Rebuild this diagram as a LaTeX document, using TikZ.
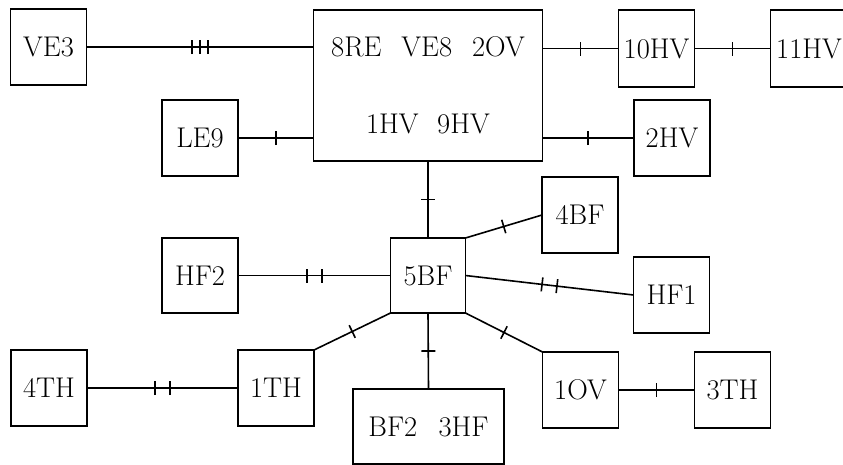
\documentclass[tikz,border=0pt]{standalone}
\usetikzlibrary{decorations.markings}
\begin{document}
\begin{tikzpicture}[x=1pt,y=-1pt,
  box/.style={draw,line width=1.6pt,inner sep=0pt,outer sep=0pt,
    minimum width=76pt,minimum height=76pt,font=\fontsize{28.5}{34}\selectfont},
  link/.style={line width=1.6pt},
  tkone/.style={link,postaction={decorate},decoration={markings,
    mark=at position 0.5 with {\draw[line width=1.6pt] (0,-7pt)--(0,7pt);}}},
  tktwo/.style={link,postaction={decorate},decoration={markings,
    mark=at position 0.5 with {\draw[line width=1.6pt] (-7.5pt,-7pt)--(-7.5pt,7pt) (7.5pt,-7pt)--(7.5pt,7pt);}}},
  tkthree/.style={link,postaction={decorate},decoration={markings,
    mark=at position 0.5 with {\draw[line width=1.6pt] (-8pt,-7pt)--(-8pt,7pt) (0,-7pt)--(0,7pt) (8pt,-7pt)--(8pt,7pt);}}}
]
\useasboundingbox (0,0) rectangle (843,464);
\fill[white] (0,0) rectangle (843,464);
\node[box] (VE3) at (48.5,47) {VE3};
\node[box,minimum width=229pt,minimum height=151pt,align=center,
  font=\fontsize{28.5}{77}\selectfont] (big) at (428,85.5)
  {8RE\hspace{0.7em}VE8\hspace{0.7em}2OV\\1HV\hspace{0.65em}9HV};
\node[box] (LE9) at (200,138) {LE9};
\node[box,minimum height=77pt] (10HV) at (656.5,48.5) {10HV};
\node[box,minimum width=77pt,minimum height=77pt] (11HV) at (809,48.5) {11HV};
\node[box] (2HV) at (672,138) {2HV};
\node[box,minimum width=75pt,minimum height=75pt] (5BF) at (428,275.5) {5BF};
\node[box,minimum height=75pt] (HF2) at (200,275.5) {HF2};
\node[box] (4BF) at (580,215) {4BF};
\node[box] (HF1) at (671.5,295) {HF1};
\node[box] (4TH) at (49,388) {4TH};
\node[box] (1TH) at (276,388) {1TH};
\node[box,minimum width=151pt,minimum height=75pt] (BF2) at (428.5,426.5) {BF2\hspace{0.75em}3HF};
\node[box] (1OV) at (580.5,390) {1OV};
\node[box] (3TH) at (732.5,390) {3TH};

\draw[tkthree] (VE3.east) -- (VE3.east -| big.west);
\draw[tkone] (LE9.east) -- (LE9.east -| big.west);
\draw[tkone] (10HV.west -| big.east) -- (10HV.west);
\draw[tkone] (10HV.east) -- (11HV.west);
\draw[tkone] (2HV.west -| big.east) -- (2HV.west);
\draw[tkone] (big.south) -- (5BF.north);
\draw[tktwo] (HF2.east) -- (5BF.west);
\draw[tkone] (5BF.north east) -- (4BF.west);
\draw[tktwo] (5BF.east) -- (HF1.west);
\draw[tkone] (1TH.north east) -- (5BF.south west);
\draw[tkone] (5BF.south) -- (BF2.north);
\draw[tkone] (5BF.south east) -- (1OV.north west);
\draw[tkone] (1OV.east) -- (3TH.west);
\draw[tktwo] (4TH.east) -- (1TH.west);
\end{tikzpicture}
\end{document}
